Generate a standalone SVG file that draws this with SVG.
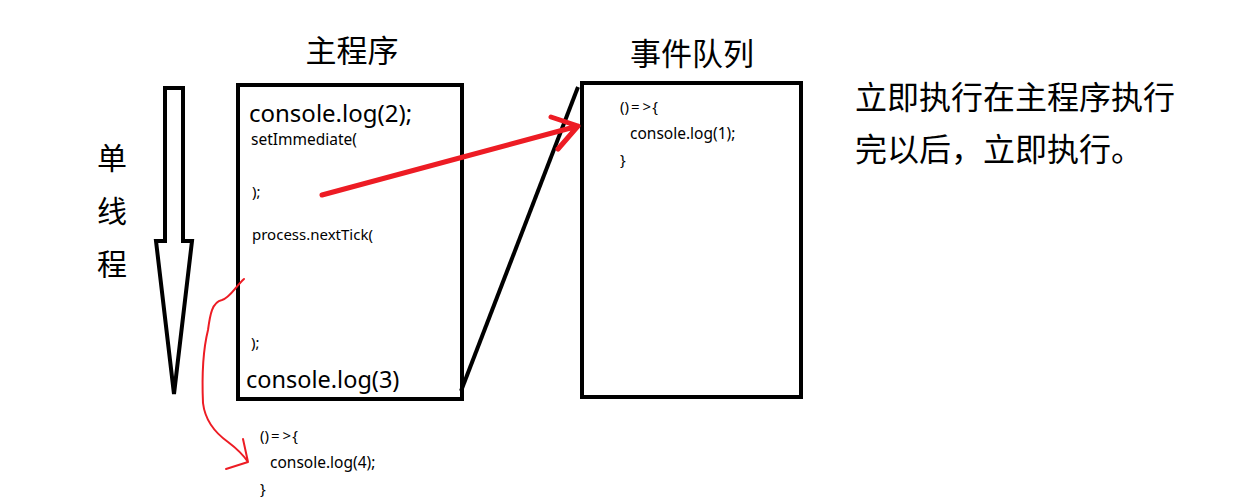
<svg xmlns="http://www.w3.org/2000/svg" width="1250" height="502" viewBox="0 0 1250 502">
<style>
.box{fill:none;stroke:#000;stroke-width:4}
.blk{fill:none;stroke:#000;stroke-width:4;stroke-linejoin:miter}
.red{fill:none;stroke:#ED1C24;stroke-linecap:round;stroke-linejoin:round}
.cjk{font-family:"Noto Sans CJK SC","Noto Sans",sans-serif;fill:#000}
.code{font-family:"Noto Sans","Noto Sans CJK SC",sans-serif;fill:#000}
</style>
<rect width="1250" height="502" fill="#fff"/>
<g id="single-thread">
<path class="blk" d="M165,88 H183 V241 H192 L174,394 L156,241 H165 Z"/>
<text class="cjk" font-size="30" x="97" y="169">单</text>
<text class="cjk" font-size="30" x="97" y="222">线</text>
<text class="cjk" font-size="30" x="97" y="275">程</text>
</g>
<g id="main-program">
<text class="cjk" font-size="31" x="352" y="62" text-anchor="middle">主程序</text>
<rect class="box" x="238" y="85" width="224" height="314"/>
<text class="code" font-size="24" x="249" y="122">console.log(2);</text>
<text class="code" font-size="15.5" x="251" y="145">setImmediate(</text>
<text class="code" font-size="15" x="252" y="197">);</text>
<text class="code" font-size="15" x="252" y="240">process.nextTick(</text>
<text class="code" font-size="15" x="251" y="348">);</text>
<text class="code" font-size="23.5" x="246" y="388">console.log(3)</text>
</g>
<g id="event-queue">
<text class="cjk" font-size="31" x="692" y="65" text-anchor="middle">事件队列</text>
<rect class="box" x="582" y="83" width="219" height="314"/>
<text class="code" font-size="15" x="620" y="112"><tspan>()</tspan><tspan dx="2">=</tspan><tspan dx="3">&gt;</tspan><tspan dx="1">{</tspan></text>
<text class="code" font-size="15.5" x="630" y="139">console.log(1);</text>
<text class="code" font-size="15" x="620" y="165">}</text>
</g>
<g id="tick-callback">
<text class="code" font-size="15" x="260" y="441"><tspan>()</tspan><tspan dx="2">=</tspan><tspan dx="3">&gt;</tspan><tspan dx="1">{</tspan></text>
<text class="code" font-size="15.5" x="270" y="468">console.log(4);</text>
<text class="code" font-size="15" x="260" y="494">}</text>
</g>
<g id="note">
<text class="cjk" font-size="32" x="855" y="109">立即执行在主程序执行</text>
<text class="cjk" font-size="32" x="855" y="161">完以后，立即执行。</text>
</g>
<g id="connectors">
<path class="blk" d="M461,391 L578,87"/>
<path class="red" stroke-width="5" d="M322,195 L578,126 M551,117 L578,126 L558,149"/>
<path class="red" stroke-width="2" d="M244,279 C236,286 230,298 222,300 C212,302 210,315 208,330 C203,350 202,380 203,403 C205,420 214,432 228,442 C236,448 244,456 248,462 L226,469 M243,439 L248,462"/>
</g>
</svg>
